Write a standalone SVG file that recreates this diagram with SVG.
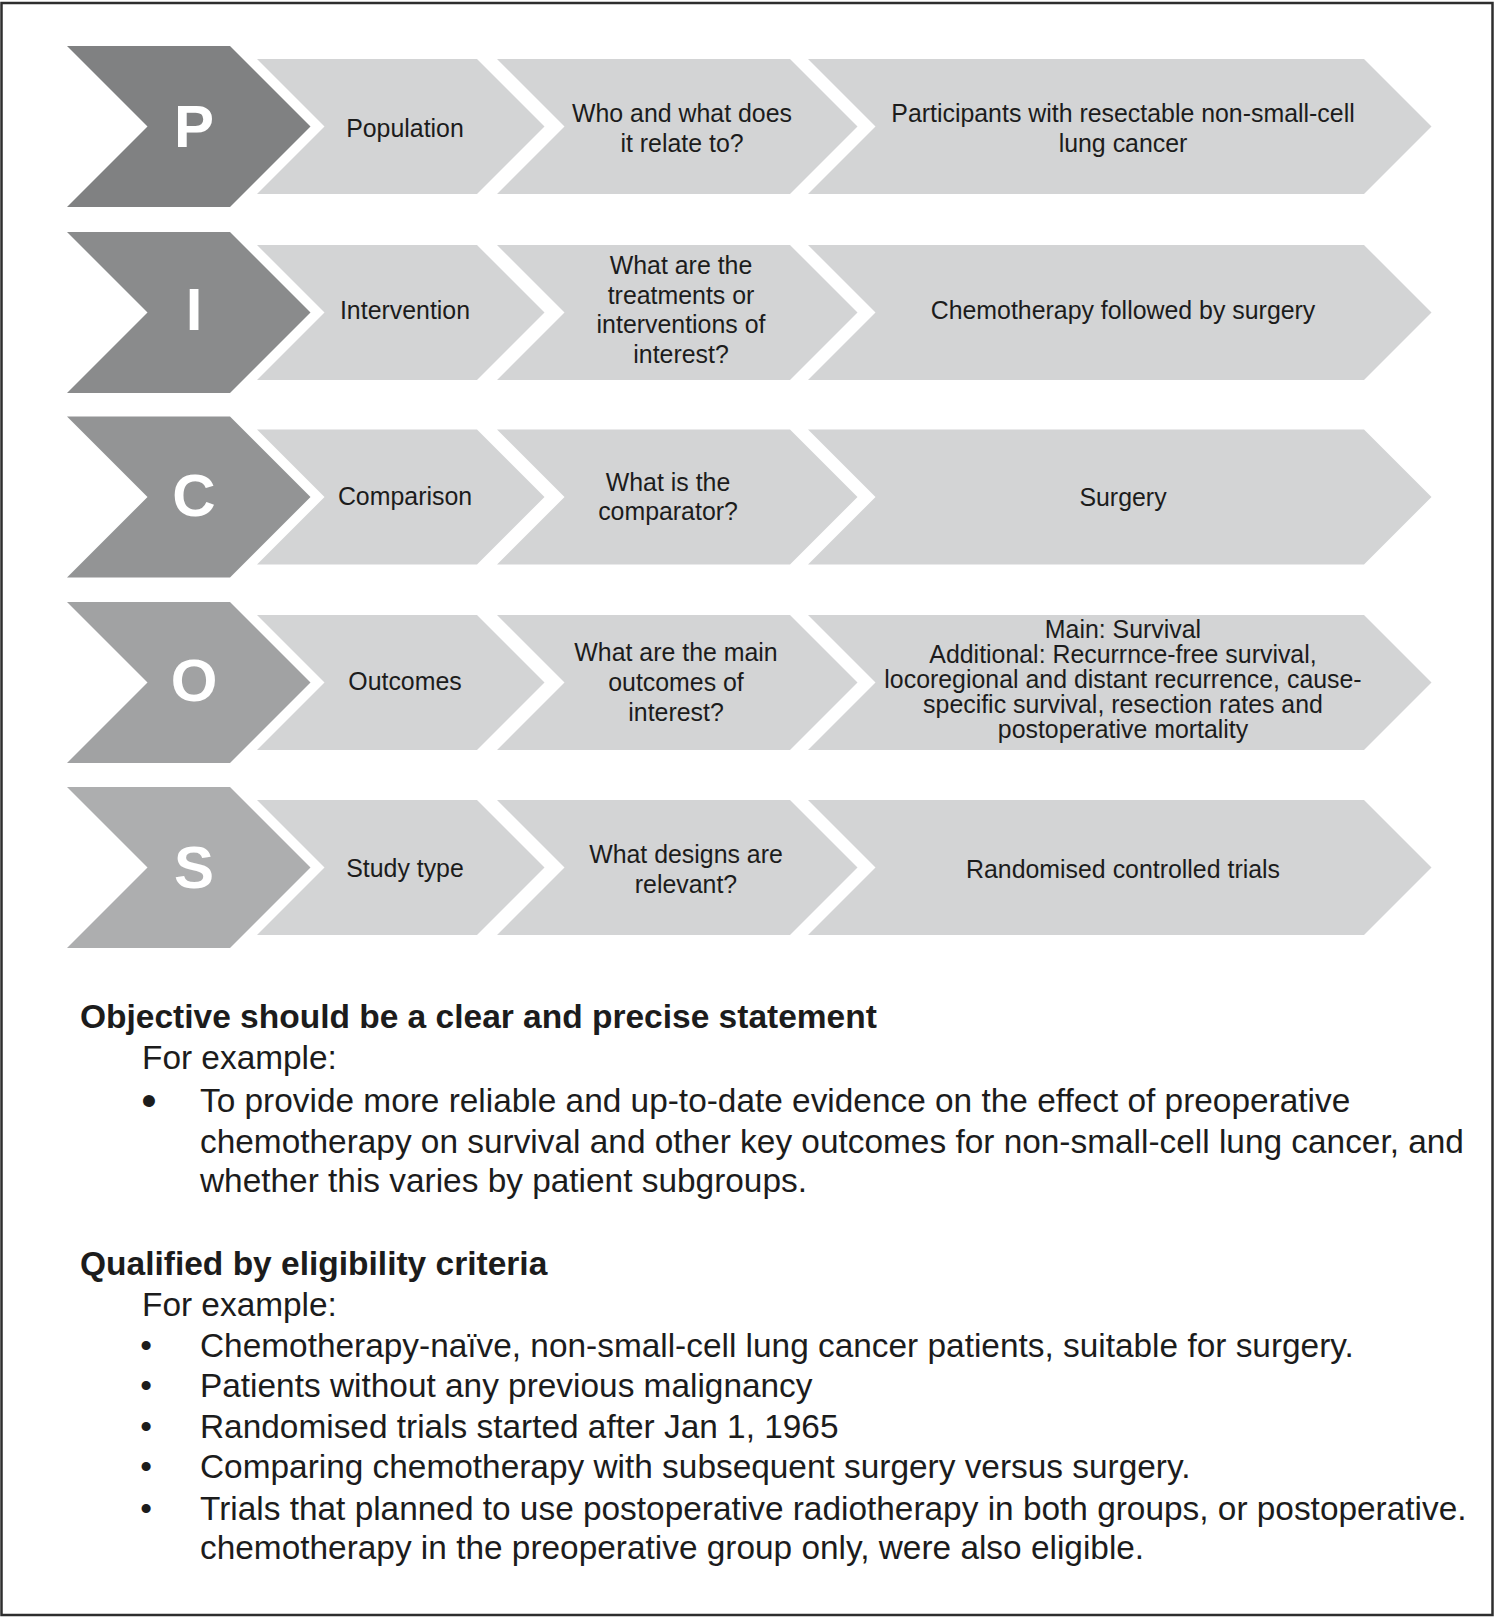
<svg xmlns="http://www.w3.org/2000/svg" xmlns:xlink="http://www.w3.org/1999/xlink" width="1496" height="1617" viewBox="0 0 1496 1617">
<style>
text{font-family:"Liberation Sans",Arial,Helvetica,sans-serif;fill:#1c1c1c}
.big{font-size:60px;font-weight:bold;fill:#ffffff;text-anchor:middle}
.t{font-size:24.9px;text-anchor:middle}
.ta{font-size:24.9px;text-anchor:middle}
.h{font-size:33.5px;font-weight:bold}
.b{font-size:33.4px}
.light{fill:#d3d4d5}
</style>
<defs>
<polygon id="dark" points="67,-80.5 230,-80.5 310.5,0 230,80.5 67,80.5 147.5,0"/>
<polygon id="lbl" points="257,-67.5 477,-67.5 544.5,0 477,67.5 257,67.5 324.5,0"/>
<polygon id="q" points="497,-67.5 790,-67.5 857.5,0 790,67.5 497,67.5 564.5,0"/>
<polygon id="ans" points="808,-67.5 1364,-67.5 1431.5,0 1364,67.5 808,67.5 875.5,0"/>
</defs>
<rect x="1.5" y="3" width="1491" height="1612" fill="#ffffff" stroke="#2e2e2e" stroke-width="2.5"/>

<g id="row-P" transform="translate(0,126.5)">
<use xlink:href="#dark" fill="#808182"/>
<use xlink:href="#lbl" class="light"/>
<use xlink:href="#q" class="light"/>
<use xlink:href="#ans" class="light"/>
<text class="big" x="194" y="20">P</text>
<text class="t" x="405" y="10">Population</text>
<text class="t" x="682" y="-5">Who and what does</text>
<text class="t" x="682" y="25">it relate to?</text>
<text class="ta" x="1123" y="-5">Participants with resectable non-small-cell</text>
<text class="ta" x="1123" y="25">lung cancer</text>
</g>

<g id="row-I" transform="translate(0,312.5)">
<use xlink:href="#dark" fill="#8a8b8c"/>
<use xlink:href="#lbl" class="light"/>
<use xlink:href="#q" class="light"/>
<use xlink:href="#ans" class="light"/>
<text class="big" x="194" y="17">I</text>
<text class="t" x="405" y="6">Intervention</text>
<text class="t" x="681" y="-38.5">What are the</text>
<text class="t" x="681" y="-8.8">treatments or</text>
<text class="t" x="681" y="20.9">interventions of</text>
<text class="t" x="681" y="50.6">interest?</text>
<text class="ta" x="1123" y="6.5">Chemotherapy followed by surgery</text>
</g>

<g id="row-C" transform="translate(0,497)">
<use xlink:href="#dark" fill="#939495"/>
<use xlink:href="#lbl" class="light"/>
<use xlink:href="#q" class="light"/>
<use xlink:href="#ans" class="light"/>
<text class="big" x="194" y="18.5">C</text>
<text class="t" x="405" y="8">Comparison</text>
<text class="t" x="668" y="-6.3">What is the</text>
<text class="t" x="668" y="23">comparator?</text>
<text class="ta" x="1123" y="8.5">Surgery</text>
</g>

<g id="row-O" transform="translate(0,682.5)">
<use xlink:href="#dark" fill="#a1a2a3"/>
<use xlink:href="#lbl" class="light"/>
<use xlink:href="#q" class="light"/>
<use xlink:href="#ans" class="light"/>
<text class="big" x="194" y="18">O</text>
<text class="t" x="405" y="7.5">Outcomes</text>
<text class="t" x="676" y="-22">What are the main</text>
<text class="t" x="676" y="8">outcomes of</text>
<text class="t" x="676" y="38">interest?</text>
<text class="ta" x="1123" y="-44.5">Main: Survival</text>
<text class="ta" x="1123" y="-19.5">Additional: Recurrnce-free survival,</text>
<text class="ta" x="1123" y="5.5">locoregional and distant recurrence, cause-</text>
<text class="ta" x="1123" y="30.5">specific survival, resection rates and</text>
<text class="ta" x="1123" y="55.5">postoperative mortality</text>
</g>

<g id="row-S" transform="translate(0,867.5)">
<use xlink:href="#dark" fill="#adaeaf"/>
<use xlink:href="#lbl" class="light"/>
<use xlink:href="#q" class="light"/>
<use xlink:href="#ans" class="light"/>
<text class="big" x="194" y="20">S</text>
<text class="t" x="405" y="9">Study type</text>
<text class="t" x="686" y="-4.5">What designs are</text>
<text class="t" x="686" y="25.5">relevant?</text>
<text class="ta" x="1123" y="10">Randomised controlled trials</text>
</g>

<g id="connectors"/>

<g id="objective">
<text class="h" x="80" y="1028">Objective should be a clear and precise statement</text>
<text class="b" x="142" y="1069">For example:</text>
<text class="b" x="149" y="1116" style="font-size:44px;text-anchor:middle">•</text>
<text class="b" x="200" y="1112">To provide more reliable and up-to-date evidence on the effect of preoperative</text>
<text class="b" x="200" y="1153">chemotherapy on survival and other key outcomes for non-small-cell lung cancer, and</text>
<text class="b" x="200" y="1192">whether this varies by patient subgroups.</text>
</g>

<g id="eligibility">
<text class="h" x="80" y="1275">Qualified by eligibility criteria</text>
<text class="b" x="142" y="1316">For example:</text>
<text class="b" x="146" y="1357" style="text-anchor:middle">•</text>
<text class="b" x="200" y="1357">Chemotherapy-naïve, non-small-cell lung cancer patients, suitable for surgery.</text>
<text class="b" x="146" y="1397" style="text-anchor:middle">•</text>
<text class="b" x="200" y="1397">Patients without any previous malignancy</text>
<text class="b" x="146" y="1438" style="text-anchor:middle">•</text>
<text class="b" x="200" y="1438">Randomised trials started after Jan 1, 1965</text>
<text class="b" x="146" y="1478" style="text-anchor:middle">•</text>
<text class="b" x="200" y="1478">Comparing chemotherapy with subsequent surgery versus surgery.</text>
<text class="b" x="146" y="1520" style="text-anchor:middle">•</text>
<text class="b" x="200" y="1520">Trials that planned to use postoperative radiotherapy in both groups, or postoperative.</text>
<text class="b" x="200" y="1559">chemotherapy in the preoperative group only, were also eligible.</text>
</g>
</svg>
